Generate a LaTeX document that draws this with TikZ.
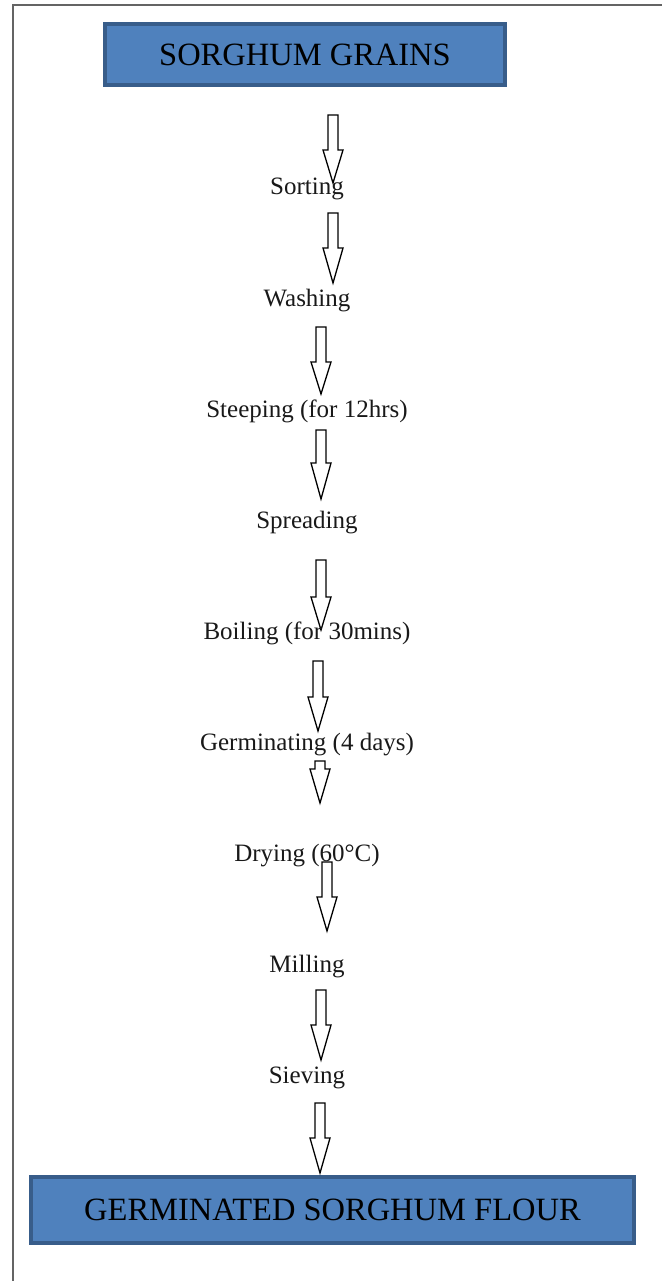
\documentclass[tikz,border=0pt]{standalone}
\usepackage{fontspec}
\setmainfont{Liberation Serif}
\definecolor{boxfill}{RGB}{79,129,189}
\definecolor{boxline}{RGB}{56,93,138}
\definecolor{frameline}{RGB}{100,100,100}
\begin{document}
\begin{tikzpicture}
      [x=1pt,y=-1pt,
      stage node/.style={anchor=base,inner sep=0pt,text=black!90,font=\fontsize{25}{30}\selectfont},
      end node/.style={rectangle,fill=boxfill,draw=boxline,line width=3.5pt,
        font=\fontsize{32.5}{38}\selectfont},
      block arrow/.style={draw=black,fill=white,line width=1.3pt,line join=miter}]
      \useasboundingbox (0,0) rectangle (662,1281);
      \draw[frameline,line width=2pt] (13,1281) -- (13,5) -- (662,5);
      \node[end node,minimum width=400pt,minimum height=61pt] (grains) at (305,54.5) {SORGHUM GRAINS};
      \node[end node,minimum width=603pt,minimum height=66pt] (flour) at (332.5,1210) {GERMINATED SORGHUM FLOUR};
      \foreach \x/\t/\h/\e in {333/115/150/183, 333/213/248/283, 321/327/362/394,
        321/430/463/499, 321/560/597/630, 318/661/697/731, 320/761/769/803,
        327/862/897/931, 321/990/1025/1060, 320/1103/1138/1173}
        \draw[block arrow] ({\x-5},\t) -- ({\x+5},\t) -- ({\x+5},\h) -- ({\x+10},\h)
          -- (\x,\e) -- ({\x-10},\h) -- ({\x-5},\h) -- cycle;
      \node[stage node] (sort) at (307,195) {Sorting};
      \node[stage node] (wash) at (307,306) {Washing};
      \node[stage node] (steep) at (307,417) {Steeping (for 12hrs)};
      \node[stage node] (spread) at (307,528) {Spreading};
      \node[stage node] (boil) at (307,639) {Boiling (for 30mins)};
      \node[stage node] (germ) at (307,750) {Germinating (4 days)};
      \node[stage node] (dry) at (307,861) {Drying (60°C)};
      \node[stage node] (mill) at (307,972) {Milling};
      \node[stage node] (sieve) at (307,1083) {Sieving};
\end{tikzpicture}
\end{document}
